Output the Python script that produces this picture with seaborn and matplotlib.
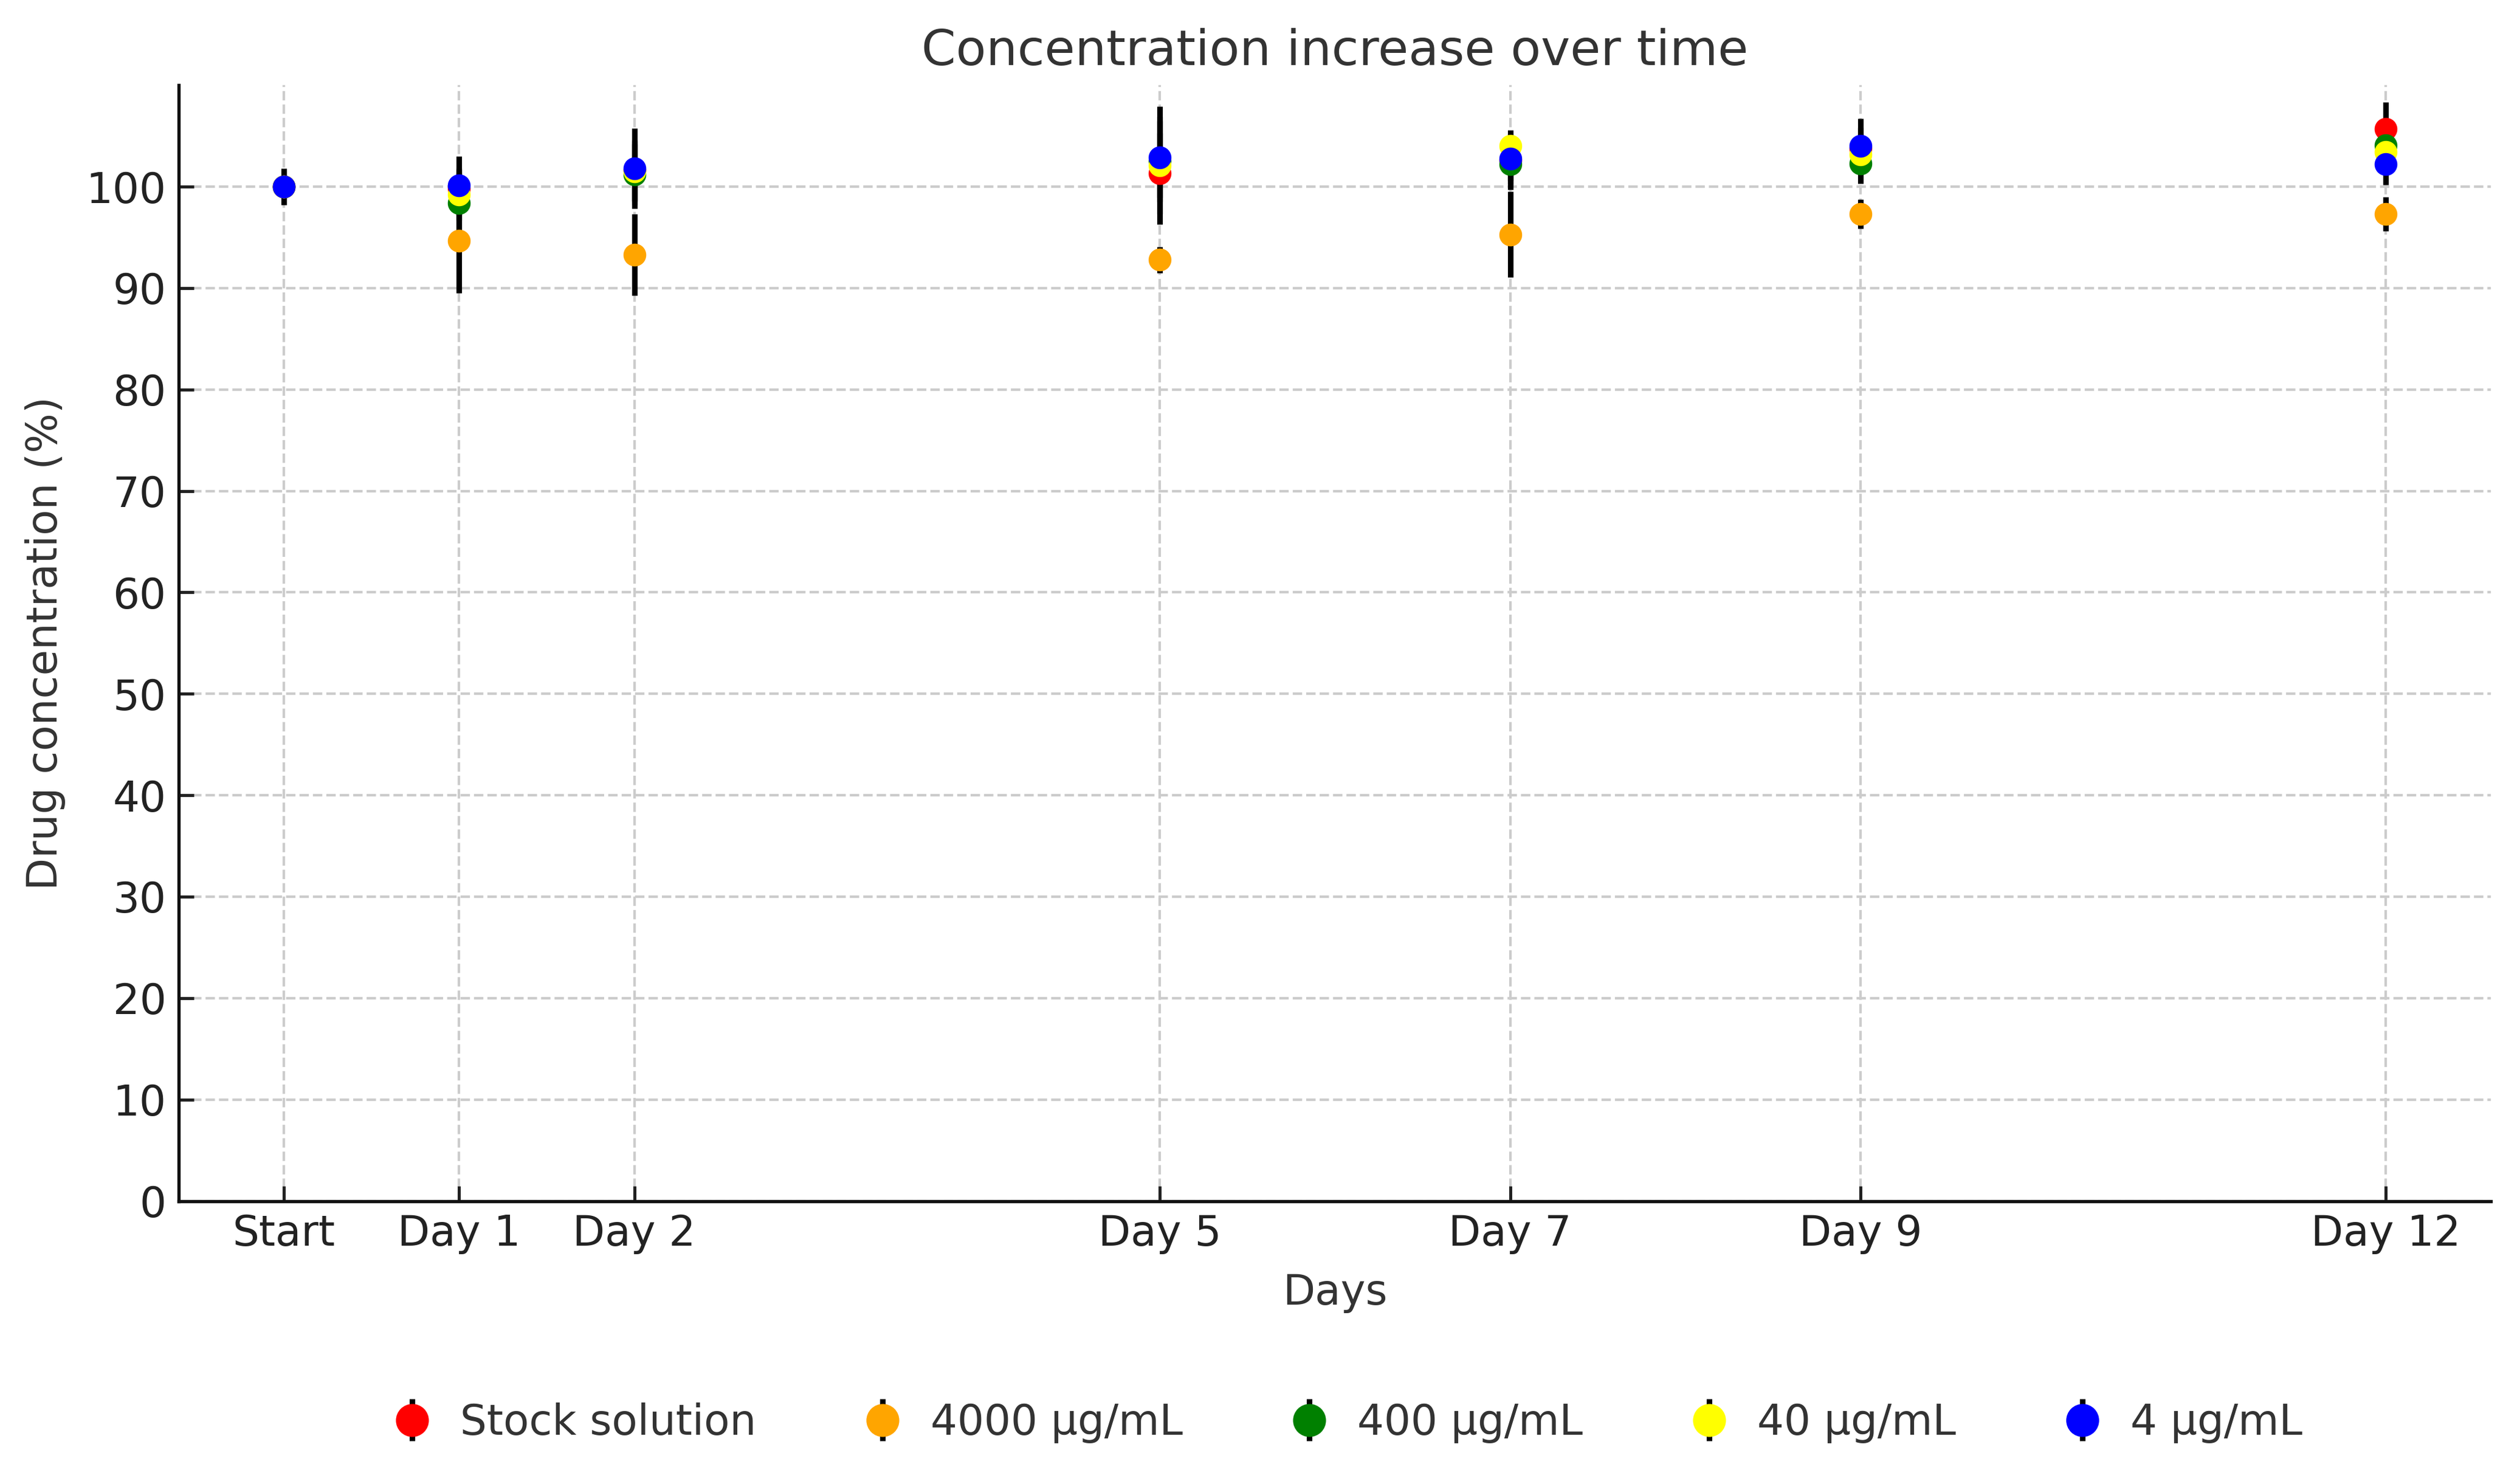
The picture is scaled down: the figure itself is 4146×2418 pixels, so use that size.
import matplotlib
matplotlib.use("Agg")
import matplotlib.pyplot as plt
import seaborn as sns

# days on a numeric axis, labels shown as ticks
days = [0, 1, 2, 5, 7, 9, 12]
day_labels = ["Start", "Day 1", "Day 2", "Day 5", "Day 7", "Day 9", "Day 12"]

series_names = ["Stock solution", "4000 µg/mL", "400 µg/mL", "40 µg/mL", "4 µg/mL"]
series_colors = ["red", "orange", "green", "yellow", "blue"]

stock = [100, 99.8, 101.6, 101.3, 102.6, 103.8, 105.7]
stock_err = [1.0, 2.0, 3.0, 4.0, 2.0, 2.0, 2.66]
c4000 = [100, 94.7, 93.3, 92.8, 95.3, 97.3, 97.3]
c4000_err = [1.0, 5.2, 4.0, 1.3, 4.2, 1.45, 1.7]
c400 = [100, 98.4, 101.2, 102.5, 102.2, 102.3, 104.1]
c400_err = [1.0, 3.0, 3.0, 4.0, 2.5, 2.0, 2.0]
c40 = [100, 99.2, 101.5, 102.1, 104.0, 103.2, 103.4]
c40_err = [1.0, 2.5, 3.0, 5.8, 1.6, 2.0, 2.0]
c4 = [100, 100.1, 101.8, 102.9, 102.74, 104.04, 102.2]
c4_err = [1.8, 2.9, 3.94, 4.0, 2.5, 2.7, 2.0]

values = [stock, c4000, c400, c40, c4]
errors = [stock_err, c4000_err, c400_err, c40_err, c4_err]

sns.set_style("ticks")
plt.rcParams["font.family"] = ["DejaVu Sans"]
plt.rcParams["text.color"] = "#333333"
plt.rcParams["axes.labelcolor"] = "#333333"
plt.rcParams["xtick.color"] = "#222222"
plt.rcParams["ytick.color"] = "#222222"

fig, ax = plt.subplots(figsize=(13.82, 8.06), dpi=300)
fig.subplots_adjust(left=0.071, right=0.9885, bottom=0.183, top=0.942)

for name, color, vals, errs in zip(series_names, series_colors, values, errors):
    cont = ax.errorbar(days, vals, yerr=errs, fmt="o", color=color,
                       ecolor="black", elinewidth=2.2, markersize=8,
                       capsize=0, label=name, zorder=2)
    # markers sit above every error bar
    cont.lines[0].set_zorder(3)

ax.set_xlim(-0.6, 12.6)
ax.set_ylim(0, 110)
ax.set_xticks(days)
ax.set_xticklabels(day_labels)
ax.set_yticks(range(0, 101, 10))
ax.tick_params(direction="in", labelsize=16.6, length=6, width=1.2, pad=5)
ax.grid(True, linestyle="--", color="#cccccc", linewidth=1)
ax.set_axisbelow(True)
sns.despine(ax=ax)
for s in ["left", "bottom"]:
    ax.spines[s].set_linewidth(1.3)
    ax.spines[s].set_color("#111111")

ax.set_title("Concentration increase over time", fontsize=19.5, pad=8)
ax.set_xlabel("Days", fontsize=16.6, labelpad=7)
ax.set_ylabel("Drug concentration (%)", fontsize=16.6, labelpad=8)

fig.legend(loc="center", bbox_to_anchor=(0.534, 0.032), ncol=5, frameon=False,
           fontsize=16.6, markerscale=1.5, handlelength=1.1, handletextpad=0.6,
           columnspacing=2.45)

fig.savefig("out.png", dpi=300)
